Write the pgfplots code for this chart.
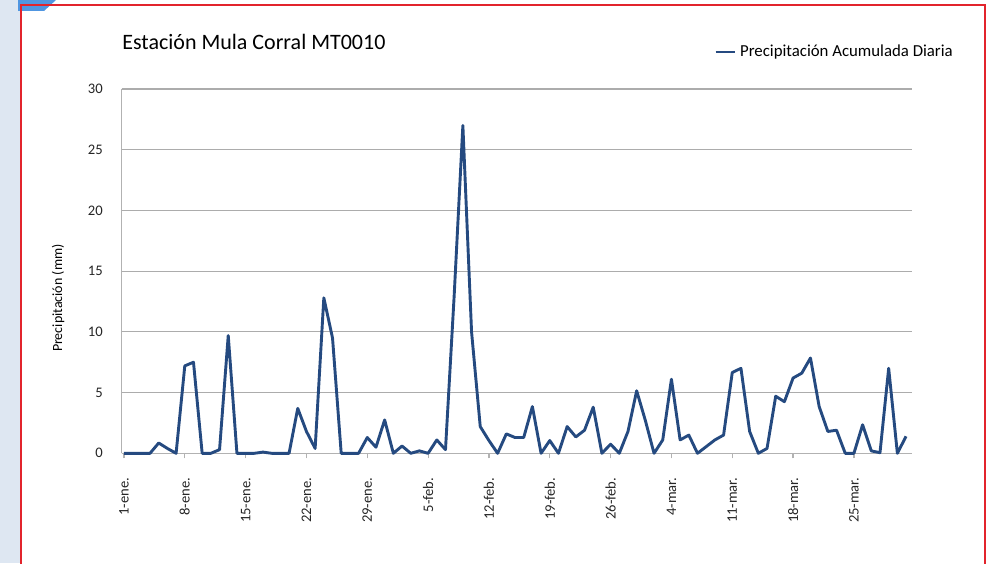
\documentclass[border=0pt]{standalone}
\usepackage{pgfplots}
\pgfplotsset{compat=1.18}
\usepackage{pgfplotstable}
\usepackage{fontspec}
\setmainfont{Carlito}

\definecolor{serie}{RGB}{37,74,128}
\definecolor{marco}{RGB}{226,36,44}
\definecolor{franja}{RGB}{222,231,242}
\definecolor{esquina}{RGB}{80,150,225}

% dia (0 = 1-ene) y precipitacion diaria (mm)
\pgfplotstableread{
dia valor
0 0
1 0
2 0
3 0
4 0.85
5 0.4
6 0
7 7.2
8 7.5
9 0
10 0
11 0.3
12 9.7
13 0
14 0
15 0
16 0.1
17 0
18 0
19 0
20 3.7
21 1.8
22 0.4
23 12.8
24 9.5
25 0
26 0
27 0
28 1.3
29 0.5
30 2.75
31 0
32 0.6
33 0
34 0.2
35 0
36 1.1
37 0.3
38 13
39 27
40 10
41 2.2
42 1.05
43 0
44 1.6
45 1.3
46 1.3
47 3.85
48 0
49 1.05
50 0
51 2.2
52 1.35
53 1.9
54 3.8
55 0
56 0.75
57 0
58 1.8
59 5.15
60 2.7
61 0
62 1.1
63 6.1
64 1.1
65 1.5
66 0
67 0.55
68 1.1
69 1.5
70 6.65
71 7.0
72 1.8
73 0
74 0.4
75 4.7
76 4.25
77 6.2
78 6.6
79 7.85
80 3.85
81 1.8
82 1.9
83 0
84 0
85 2.35
86 0.2
87 0.05
88 7.0
89 0
90 1.4
}\precip

\begin{document}
\begin{tikzpicture}
\useasboundingbox (0,0) rectangle (494.5pt,281.5pt);
\fill[white] (0,0) rectangle (494.5pt,281.5pt);
\fill[franja] (0,0) rectangle (10pt,281.5pt);
\fill[esquina] (9pt,281.5pt) -- (28pt,281.5pt) -- (22pt,276pt) -- (9pt,276pt) -- cycle;
\draw[marco, line width=1pt] (10.5pt,-3pt) -- (10.5pt,279pt) -- (492.5pt,279pt) -- (492.5pt,-3pt);

\node[anchor=west, font=\fontsize{11}{13}\selectfont, inner sep=0pt] at (61pt,260.5pt) {Estación Mula Corral MT0010};

\begin{axis}[
    at={(60.85pt,54.85pt)},
    anchor=south west,
    scale only axis,
    width=395pt,
    height=182.15pt,
    xmin=-0.26, xmax=90.65,
    ymin=0, ymax=30,
    ytick={0,5,...,30},
    xtick={0,7,...,84},
    xticklabels={1-ene.,8-ene.,15-ene.,22-ene.,29-ene.,5-feb.,12-feb.,19-feb.,26-feb.,4-mar.,11-mar.,18-mar.,25-mar.},
    axis lines*=left,
    axis line style={gray!60, line width=0.6pt},
    ymajorgrids,
    grid style={gray!65, line width=0.6pt},
    ytick style={draw=none},
    xtick align=outside,
    xtick style={gray!60, line width=0.6pt},
    major tick length=2.5pt,
    /pgf/number format/assume math mode=true,
    tick label style={font=\fontsize{7.3}{8}\selectfont, text=black!85},
    yticklabel style={anchor=east, inner sep=0pt},
    yticklabel shift=9.3pt,
    xticklabel style={rotate=90, anchor=east, inner sep=0pt},
    xticklabel shift=9.5pt,
    ylabel={Precipitación (mm)},
    ylabel style={at={(rel axis cs:-0.0806,0.426)}, anchor=center, rotate=0, font=\fontsize{7}{8}\selectfont},
    legend style={at={(1.0576,1.1016)}, anchor=east, draw=none, fill=none, inner sep=0pt,
        font=\fontsize{8.4}{10}\selectfont, legend cell align=left},
    legend image code/.code={\draw[#1] (0pt,0pt) -- (9.5pt,0pt);},
    clip=false,
]
\addplot[serie, line width=1.45pt, line join=round] table[x=dia, y=valor] {\precip};
\addlegendentry{Precipitación Acumulada Diaria}
\end{axis}
\end{tikzpicture}
\end{document}
